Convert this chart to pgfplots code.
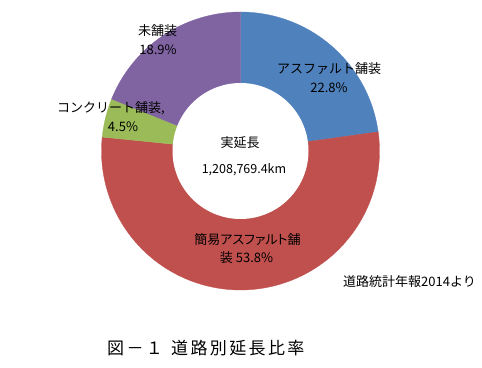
\documentclass[border=0pt]{standalone}
\usepackage{fontspec}
\usepackage{pgfplots}
\pgfplotsset{compat=1.18}
\setmainfont{Noto Sans CJK JP}
\newfontfamily\paltfont{Noto Sans CJK JP}[RawFeature=+palt]
\newfontfamily\capfont{Noto Sans CJK JP}[LetterSpace=14]
\definecolor{cA}{HTML}{4F81BD}
\definecolor{cB}{HTML}{C0504D}
\definecolor{cC}{HTML}{9BBB59}
\definecolor{cD}{HTML}{8064A2}
% shares (percent), clockwise from 12 o'clock
\def\vA{22.8}% アスファルト舗装
\def\vB{53.8}% 簡易アスファルト舗装
\def\vC{4.5}%  コンクリート舗装
\def\vD{18.9}% 未舗装
\pgfmathsetmacro{\aA}{90}
\pgfmathsetmacro{\aB}{\aA-3.6*\vA}
\pgfmathsetmacro{\aC}{\aB-3.6*\vB}
\pgfmathsetmacro{\aD}{\aC-3.6*\vC}
\pgfmathsetmacro{\aE}{\aD-3.6*\vD}
\def\cx{240.5}
\def\cy{217}
\def\R{139}
\def\r{68}
\begin{document}
\begin{tikzpicture}
\begin{axis}[width=482bp, height=368bp, scale only axis,
  xmin=0, xmax=482, ymin=0, ymax=368, hide axis, clip=false]
\path (axis cs:0,0) rectangle (axis cs:482,368);
\addplot[fill=cA, draw=cA, line width=0.3pt, domain=\aB:\aA, samples=80]
  ({\cx+\R*cos(x)},{\cy+\R*sin(x)}) -- (axis cs:\cx,\cy) -- cycle;
\addplot[fill=cB, draw=cB, line width=0.3pt, domain=\aC:\aB, samples=150]
  ({\cx+\R*cos(x)},{\cy+\R*sin(x)}) -- (axis cs:\cx,\cy) -- cycle;
\addplot[fill=cC, draw=cC, line width=0.3pt, domain=\aD:\aC, samples=30]
  ({\cx+\R*cos(x)},{\cy+\R*sin(x)}) -- (axis cs:\cx,\cy) -- cycle;
\addplot[fill=cD, draw=cD, line width=0.3pt, domain=\aE:\aD, samples=60]
  ({\cx+\R*cos(x)},{\cy+\R*sin(x)}) -- (axis cs:\cx,\cy) -- cycle;
\addplot[fill=white, draw=none, domain=0:360, samples=150]
  ({\cx+\r*cos(x)},{\cy+\r*sin(x)}) -- cycle;
% labels
\begin{scope}[every node/.style={font=\fontsize{13bp}{16bp}\selectfont, inner sep=0pt}]
\node at (axis cs:329,299) {アスファルト舗装};
\node at (axis cs:329,280.5) {22.8\%};
\node at (axis cs:157.5,337) {未舗装};
\node at (axis cs:158,318) {18.9\%};
\node at (axis cs:111,260) {コンクリート舗装,};
\node at (axis cs:123,241) {4.5\%};
\node at (axis cs:240,225) {実延長};
\node[font=\fontsize{12.5bp}{15bp}\selectfont] at (axis cs:244,198) {1,208,769.4km};
\node[font=\fontsize{13bp}{16bp}\paltfont] at (axis cs:247.5,128) {簡易アスファルト舗};
\node at (axis cs:246.5,110) {装 53.8\%};
\node[anchor=west] at (axis cs:343,86) {道路統計年報2014より};
\node[anchor=west, font=\fontsize{17bp}{20bp}\capfont] at (axis cs:107,20) {図－１};
\node[anchor=west, font=\fontsize{17bp}{20bp}\capfont] at (axis cs:171,20) {道路別延長比率};
\end{scope}
\end{axis}
\end{tikzpicture}
\end{document}
